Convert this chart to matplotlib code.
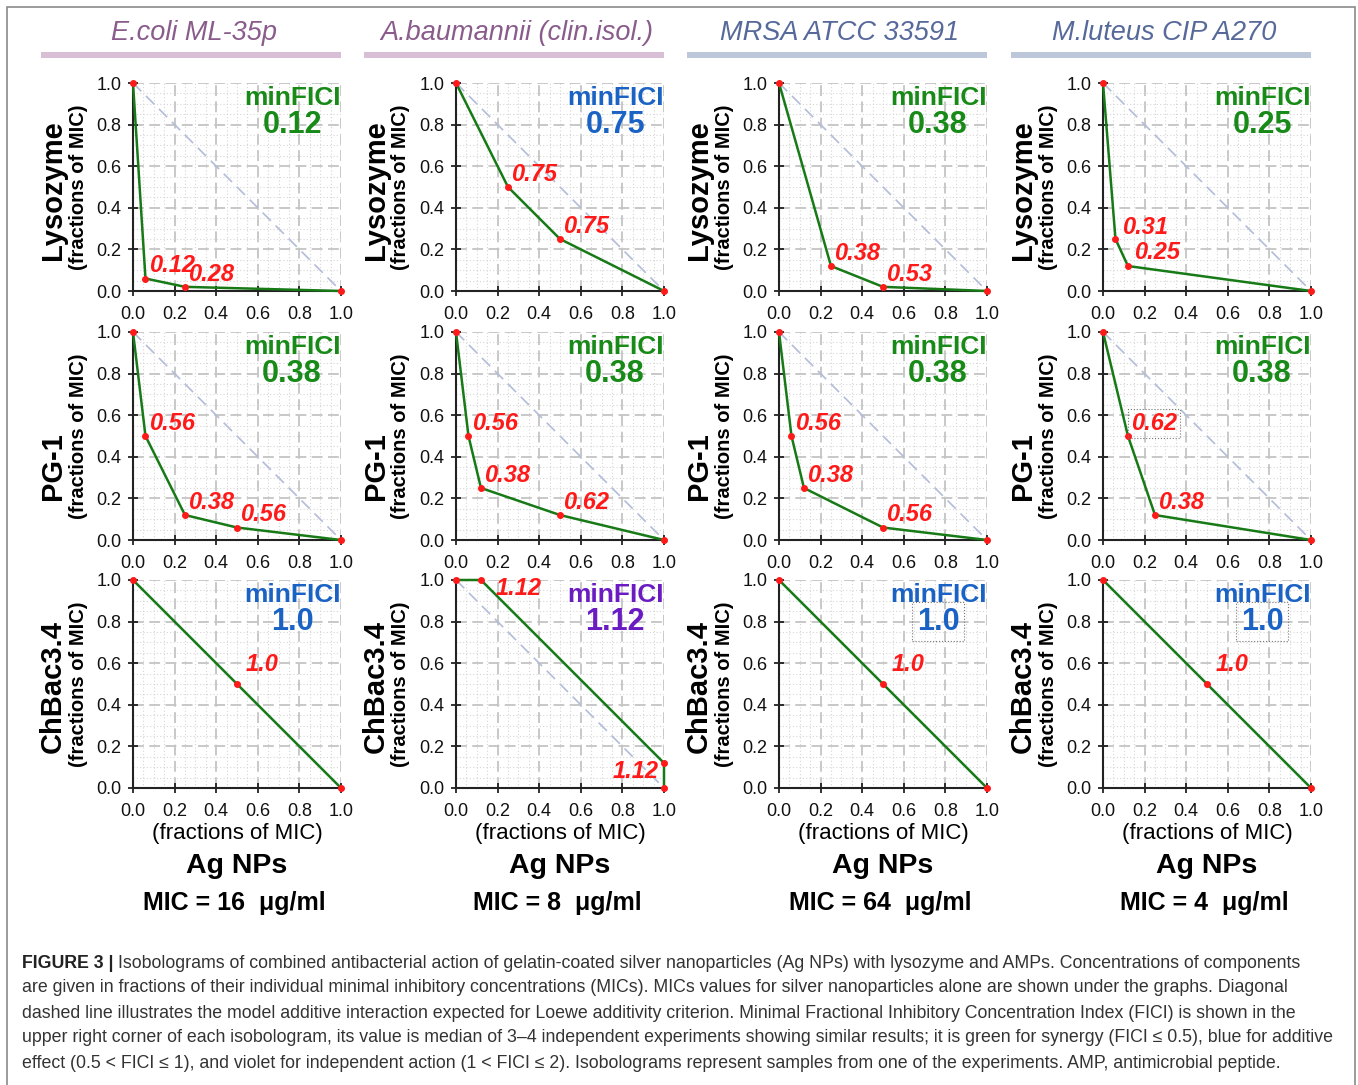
import numpy as np
import matplotlib.pyplot as plt
from matplotlib.ticker import MultipleLocator, FormatStrFormatter
from matplotlib.patches import Rectangle

plt.rcParams['font.family'] = ['Liberation Sans', 'DejaVu Sans']

#~~~~~~~~~~~~~~~~~~~~~~~~~~~~~~~~~~~~~~~~~~~~~
# data
#~~~~~~~~~~~~~~~~~~~~~~~~~~~~~~~~~~~~~~~~~~~~~
strains = ['E.coli ML-35p', 'A.baumannii (clin.isol.)', 'MRSA ATCC 33591', 'M.luteus CIP A270']
agents = ['Lysozyme', 'PG-1', 'ChBac3.4']
mic_ag = [16, 8, 64, 4]

# x = Ag NPs (fraction of MIC), y = agent (fraction of MIC)
x_lyz = [[0, 0.06, 0.25, 1], [0, 0.25, 0.5, 1], [0, 0.25, 0.5, 1], [0, 0.06, 0.12, 1]]
y_lyz = [[1, 0.06, 0.02, 0], [1, 0.5, 0.25, 0], [1, 0.12, 0.02, 0], [1, 0.25, 0.12, 0]]
fici_lyz = [['0.12', '0.28'], ['0.75', '0.75'], ['0.38', '0.53'], ['0.31', '0.25']]

x_pg1 = [[0, 0.06, 0.25, 0.5, 1], [0, 0.06, 0.12, 0.5, 1], [0, 0.06, 0.12, 0.5, 1], [0, 0.12, 0.25, 1]]
y_pg1 = [[1, 0.5, 0.12, 0.06, 0], [1, 0.5, 0.25, 0.12, 0], [1, 0.5, 0.25, 0.06, 0], [1, 0.5, 0.12, 0]]
fici_pg1 = [['0.56', '0.38', '0.56'], ['0.56', '0.38', '0.62'], ['0.56', '0.38', '0.56'], ['0.62', '0.38']]

x_chb = [[0, 0.5, 1], [0, 0.12, 1, 1], [0, 0.5, 1], [0, 0.5, 1]]
y_chb = [[1, 0.5, 0], [1, 1, 0.12, 0], [1, 0.5, 0], [1, 0.5, 0]]
fici_chb = [['1.0'], ['1.12', '1.12'], ['1.0'], ['1.0']]

min_fici = [['0.12', '0.75', '0.38', '0.25'],
            ['0.38', '0.38', '0.38', '0.38'],
            ['1.0', '1.12', '1.0', '1.0']]

xs = [x_lyz, x_pg1, x_chb]
ys = [y_lyz, y_pg1, y_chb]
labs = [fici_lyz, fici_pg1, fici_chb]

caption = [
    'Isobolograms of combined antibacterial action of gelatin-coated silver nanoparticles (Ag NPs) with lysozyme and AMPs. Concentrations of components',
    'are given in fractions of their individual minimal inhibitory concentrations (MICs). MICs values for silver nanoparticles alone are shown under the graphs. Diagonal',
    'dashed line illustrates the model additive interaction expected for Loewe additivity criterion. Minimal Fractional Inhibitory Concentration Index (FICI) is shown in the',
    'upper right corner of each isobologram, its value is median of 3\u20134 independent experiments showing similar results; it is green for synergy (FICI \u2264 0.5), blue for additive',
    'effect (0.5 < FICI \u2264 1), and violet for independent action (1 < FICI \u2264 2). Isobolograms represent samples from one of the experiments. AMP, antimicrobial peptide.',
]

#~~~~~~~~~~~~~~~~~~~~~~~~~~~~~~~~~~~~~~~~~~~~~
# style / layout
#~~~~~~~~~~~~~~~~~~~~~~~~~~~~~~~~~~~~~~~~~~~~~
W, H = 1358, 1085
col_left = [133, 456, 779, 1103]
row_top = [83, 332, 580]
S = 208
title_col = ['#8a5c8c', '#8a5c8c', '#56699a', '#56699a']
bar_col = ['#d9bfd6', '#d9bfd6', '#bcc7d9', '#bcc7d9']
GREEN, BLUE, VIOLET, RED = '#178a17', '#1a63c4', '#6a1bc2', '#ff1a1a'
main_y = [0.486, 0.356, 0.486]

def fici_color(v):
    v = float(v)
    if v <= 0.5:
        return GREEN
    if v <= 1.0:
        return BLUE
    return VIOLET

# label offsets (dx, dy) for special panels
offsets = {(0, 3): [(0.03, 0.0), (0.03, 0.01)],
           (2, 0): [(0.04, 0.04)], (2, 2): [(0.04, 0.04)], (2, 3): [(0.04, 0.04)]}
boxed_lab = {(1, 3, 0)}
boxed_min = {(2, 2), (2, 3)}

fig = plt.figure(figsize=(W / 100, H / 100), dpi=100)

for r in range(3):
    for c in range(4):
        l, t = col_left[c], row_top[r]
        ax = fig.add_axes([l / W, 1 - (t + S) / H, S / W, S / H])
        ax.set_xlim(0, 1)
        ax.set_ylim(0, 1)
        for a in (ax.xaxis, ax.yaxis):
            a.set_major_locator(MultipleLocator(0.2))
            a.set_minor_locator(MultipleLocator(0.05))
            a.set_major_formatter(FormatStrFormatter('%.1f'))
        ax.set_axisbelow(True)
        ax.grid(which='minor', color='#d6d6d6', ls=(0, (1, 2)), lw=0.8)
        ax.grid(which='major', color='#c4c4c4', ls=(0, (6, 3)), lw=1.3)
        ax.tick_params(which='minor', length=0)
        ax.tick_params(which='major', direction='inout', length=7, width=1.2,
                       labelsize=13, colors='#111111')
        ax.tick_params(axis='y', pad=5)
        ax.tick_params(axis='x', pad=7)
        for s in ('top', 'right'):
            ax.spines[s].set_visible(False)
        for s in ('left', 'bottom'):
            ax.spines[s].set_color('#222222')
            ax.spines[s].set_linewidth(1.5)

        ax.plot([0, 1], [1, 0], color='#b3bcd9', ls=(0, (7, 4)), lw=1.2, zorder=2)
        x, y = xs[r][c], ys[r][c]
        ax.plot(x, y, color='#177a17', lw=1.8, zorder=3, clip_on=False)
        ax.plot(x, y, 'o', color=RED, ms=4, zorder=4, clip_on=False)

        for k, lab in enumerate(labs[r][c]):
            px, py = x[k + 1], y[k + 1]
            kw = dict(color=RED, fontsize=17, fontweight='bold', style='italic', zorder=5)
            if (r, c, k) in boxed_lab:
                kw['bbox'] = dict(boxstyle='square,pad=0.12', fc='none', ec='#777777', ls=':', lw=0.8)
            if (r, c) == (2, 1):
                if k == 0:
                    ax.text(px + 0.07, py - 0.04, lab, ha='left', va='center', **kw)
                else:
                    ax.text(px - 0.025, py - 0.04, lab, ha='right', va='center', **kw)
                continue
            dx, dy = offsets.get((r, c), [(0.015, 0.005)] * 3)[k]
            ax.text(px + dx, py + dy, lab, ha='left', va='bottom', **kw)

        mf = min_fici[r][c]
        col = fici_color(mf)
        ax.text(0.765, 0.93, 'minFICI', ha='center', va='center', fontsize=19,
                fontweight='bold', color=col, zorder=5)
        kw = {}
        if (r, c) in boxed_min:
            kw['bbox'] = dict(boxstyle='square,pad=0.15', fc='none', ec='#777777', ls=':', lw=0.8)
        ax.text(0.765, 0.80, mf, ha='center', va='center', fontsize=22,
                fontweight='bold', color=col, zorder=5, **kw)

        # y labels
        ax.text(-80 / S, main_y[r], agents[r], rotation=90, ha='center', va='center',
                fontsize=21, fontweight='bold', transform=ax.transAxes)
        ax.text(-55 / S, 0.5, '(fractions of MIC)', rotation=90, ha='center', va='center',
                fontsize=14.5, fontweight='bold', transform=ax.transAxes)

# column headers
for c in range(4):
    right = col_left[c] + S
    fig.add_artist(Rectangle(((right - 300) / W, 1 - 58 / H), 300 / W, 6 / H,
                             transform=fig.transFigure, color=bar_col[c], lw=0))
    fig.text((right - 147) / W, 1 - 33 / H, strains[c], ha='center', va='center',
             fontsize=19.5, style='italic', color=title_col[c])

# x axis captions
for c in range(4):
    cx = (col_left[c] + S / 2) / W
    fig.text(cx, 1 - 834 / H, '(fractions of MIC)', ha='center', va='center', fontsize=16)
    fig.text(cx, 1 - 866 / H, 'Ag NPs', ha='center', va='center', fontsize=20.5, fontweight='bold')
    fig.text(cx - 3 / W, 1 - 903 / H, 'MIC = %d  \u03bcg/ml' % mic_ag[c], ha='center', va='center',
             fontsize=18, fontweight='bold')

# frame
fig.add_artist(Rectangle((7 / W, -0.01), (1355 - 7) / W, 1 - 7 / H + 0.01,
                         transform=fig.transFigure, fc='none', ec='#8a8a8a', lw=1.2))

# figure caption
renderer = fig.canvas.get_renderer()
probe = fig.text(0, 0, caption[3], fontsize=12)
wpx = probe.get_window_extent(renderer).width
probe.remove()
cap_fs = 12 * (1341 - 22) / wpx
line_y = [963, 988, 1013, 1038, 1064]
head = fig.text(22 / W, 1 - line_y[0] / H, 'FIGURE 3 | ', fontsize=cap_fs, fontweight='bold',
                va='center', color='#222222')
hw = head.get_window_extent(renderer).width
for i, line in enumerate(caption):
    x0 = 22 + (hw if i == 0 else 0)
    fig.text(x0 / W, 1 - line_y[i] / H, line, fontsize=cap_fs, va='center', color='#333333')

fig.savefig('out.png', dpi=100)
